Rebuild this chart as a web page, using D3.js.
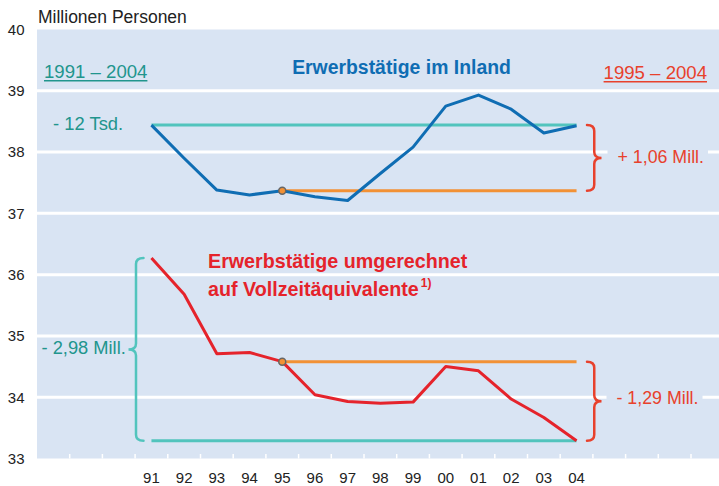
<!DOCTYPE html>
<html>
<head>
<meta charset="utf-8">
<script src="https://cdn.jsdelivr.net/npm/d3@7"></script>
<style>
  body { margin: 0; background: #fff; }
  text { font-family: "Liberation Sans", Arial, sans-serif; }
</style>
</head>
<body>
<svg id="chart" width="719" height="486"></svg>
<script>
// years on the x axis
const years = [1991, 1992, 1993, 1994, 1995, 1996, 1997, 1998, 1999, 2000, 2001, 2002, 2003, 2004];
const yearLabels = ["91", "92", "93", "94", "95", "96", "97", "98", "99", "00", "01", "02", "03", "04"];
// Erwerbstätige im Inland (Mill.)
const inland = [38.44, 37.90, 37.38, 37.30, 37.37, 37.27, 37.21, 37.65, 38.08, 38.75, 38.93, 38.70, 38.31, 38.43];
// Erwerbstätige umgerechnet auf Vollzeitäquivalente (Mill.)
const vollzeit = [36.27, 35.68, 34.71, 34.73, 34.58, 34.04, 33.93, 33.90, 33.92, 34.50, 34.43, 33.97, 33.67, 33.29];
const yTicks = [33, 34, 35, 36, 37, 38, 39, 40];

const bg = "#d9e4f3",
      blue = "#0f6db3",
      red = "#e5232b",
      redText = "#e8412c",
      teal = "#52c4bd",
      tealText = "#21958d",
      orange = "#f29135";

const svg = d3.select("#chart");

const x = d3.scaleLinear().domain([1987.5, 2008.5]).range([37, 723.7]);
const y = d3.scaleLinear().domain([33, 40]).range([458.5, 29.5]);

// plot background
svg.append("rect")
  .attr("x", 37).attr("y", y(40))
  .attr("width", 719 - 37).attr("height", y(33) - y(40))
  .attr("fill", bg);

// grid lines
svg.selectAll(".grid")
  .data(yTicks.filter(d => d > 33 && d < 40))
  .enter().append("line")
  .attr("x1", 37).attr("x2", 719)
  .attr("y1", d => y(d)).attr("y2", d => y(d))
  .attr("stroke", "#fff").attr("stroke-width", 3);

// small tick marks between the years
const tickPos = d3.range(1988.5, 2008, 1);
svg.selectAll(".xtick")
  .data(tickPos)
  .enter().append("line")
  .attr("x1", d => x(d)).attr("x2", d => x(d))
  .attr("y1", y(33) - 4.5).attr("y2", y(33))
  .attr("stroke", "#fff").attr("stroke-width", 1.5);

// y labels
svg.selectAll(".ylab")
  .data(yTicks)
  .enter().append("text")
  .attr("x", 24.5).attr("y", d => y(d))
  .attr("dy", "0.36em")
  .attr("text-anchor", "end")
  .attr("font-size", 15)
  .attr("fill", "#222")
  .text(d => d);

// x labels
svg.selectAll(".xlab")
  .data(years)
  .enter().append("text")
  .attr("x", d => x(d)).attr("y", 483)
  .attr("text-anchor", "middle")
  .attr("font-size", 15)
  .attr("fill", "#222")
  .text((d, i) => yearLabels[i]);

svg.append("text")
  .attr("x", 38).attr("y", 22.5)
  .attr("font-size", 17.5)
  .attr("fill", "#222")
  .text("Millionen Personen");

// reference lines
function hline(v, fromYear, toYear, color) {
  svg.append("line")
    .attr("x1", x(fromYear)).attr("x2", x(toYear))
    .attr("y1", y(v)).attr("y2", y(v))
    .attr("stroke", color).attr("stroke-width", 3);
}
hline(inland[0], 1991, 2004, teal);
hline(inland[4], 1995, 2004, orange);
hline(vollzeit[13], 1991, 2004, teal);
hline(vollzeit[4], 1995, 2004, orange);

// series lines
const line = d3.line()
  .x((d, i) => x(years[i]))
  .y(d => y(d));

svg.append("path").datum(inland)
  .attr("d", line)
  .attr("fill", "none").attr("stroke", blue)
  .attr("stroke-width", 3).attr("stroke-linejoin", "round");

svg.append("path").datum(vollzeit)
  .attr("d", line)
  .attr("fill", "none").attr("stroke", red)
  .attr("stroke-width", 3).attr("stroke-linejoin", "round");

// 1995 markers
[inland[4], vollzeit[4]].forEach(v => {
  svg.append("circle")
    .attr("cx", x(1995)).attr("cy", y(v)).attr("r", 3.5)
    .attr("fill", orange).attr("stroke", "#666").attr("stroke-width", 1.5);
});

// curly braces
function brace(x0, v0, v1, w, dir, color) {
  const y0 = y(v0), y1 = y(v1), ym = (y0 + y1) / 2;
  const xm = x0 + dir * w / 2, xt = x0 + dir * w;
  const r = 6;
  const p = d3.path();
  p.moveTo(x0, y0);
  p.quadraticCurveTo(xm, y0, xm, y0 + r);
  p.lineTo(xm, ym - r);
  p.quadraticCurveTo(xm, ym, xt, ym);
  p.quadraticCurveTo(xm, ym, xm, ym + r);
  p.lineTo(xm, y1 - r);
  p.quadraticCurveTo(xm, y1, x0, y1);
  svg.append("path")
    .attr("d", p.toString())
    .attr("fill", "none").attr("stroke", color)
    .attr("stroke-width", 2.5).attr("stroke-linecap", "round");
}
brace(587, inland[0], inland[4], 14.5, 1, redText);
brace(587, vollzeit[4], vollzeit[13], 14.5, 1, redText);
brace(143.5, vollzeit[0], vollzeit[13], 15, -1, teal);

// annotation texts
function label(txt, tx, ty, color, opts) {
  opts = opts || {};
  const t = svg.append("text")
    .attr("x", tx).attr("y", ty)
    .attr("font-size", opts.size || 18)
    .attr("font-weight", opts.bold ? "bold" : null)
    .attr("text-anchor", opts.anchor || "start")
    .attr("fill", color)
    .text(txt);
  const b = t.node().getBBox();
  if (opts.box) {
    svg.insert("rect", function() { return t.node(); })
      .attr("x", b.x - 10).attr("y", b.y)
      .attr("width", b.width + 14).attr("height", b.height)
      .attr("fill", bg);
  }
  if (opts.underline) {
    svg.append("line")
      .attr("x1", b.x).attr("x2", b.x + b.width)
      .attr("y1", ty + 2.5).attr("y2", ty + 2.5)
      .attr("stroke", color).attr("stroke-width", 1.5);
  }
  return t;
}

label("1991 \u2013 2004", 44, 78.3, tealText, { underline: true, size: 18.6 });
label("1995 \u2013 2004", 707, 79.3, redText, { underline: true, anchor: "end", size: 18.6 });
label("Erwerbst\u00e4tige im Inland", 401.5, 74.3, blue, { bold: true, size: 19.4, anchor: "middle" });
label("- 12 Tsd.", 53, 130, tealText, { size: 18.4 });
label("+ 1,06 Mill.", 617.5, 163.3, redText, { box: true, size: 17.8 });
label("- 1,29 Mill.", 616.5, 404.3, redText, { box: true, size: 17.8 });
label("- 2,98 Mill.", 41.5, 354.3, tealText, { size: 18.3 });

label("Erwerbst\u00e4tige umgerechnet", 208, 267.5, red, { bold: true, size: 19.7 });
const l2 = label("auf Vollzeit\u00e4quivalente", 208, 295.5, red, { bold: true, size: 19.7 });
const l2w = l2.node().getComputedTextLength();
label("1)", 208 + l2w + 2, 287, red, { bold: true, size: 12 });
</script>
</body>
</html>
